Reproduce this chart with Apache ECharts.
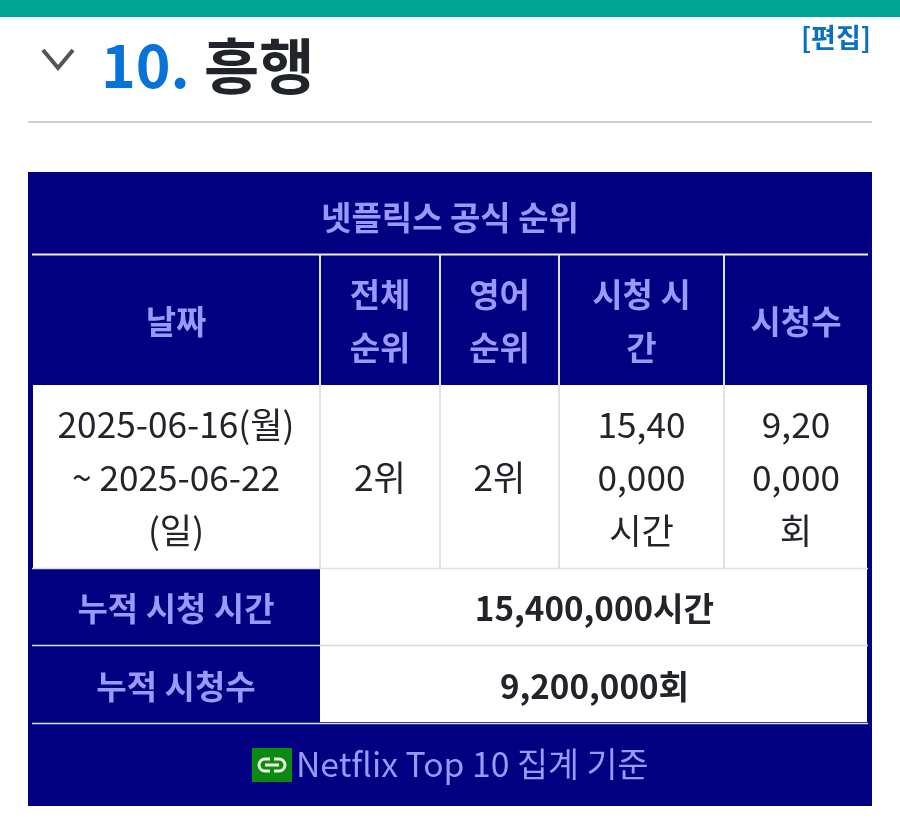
<!DOCTYPE html>
<html><head><meta charset="utf-8">
<style>html,body{margin:0;padding:0;background:#fff}#c{width:900px;height:823px}</style>
<script src="https://cdn.jsdelivr.net/npm/echarts@6/dist/echarts.min.js"></script>
</head><body><div id="c"></div>
<script>
var sectionNumber = '10.';
var sectionTitle = '흥행';
var editLabel = '[편집]';
var tableTitle = '넷플릭스 공식 순위';
var columnHeaders = ['날짜', '전체\n순위', '영어\n순위', '시청 시\n간', '시청수'];
var rowValues = ['2025-06-16(월)\n~ 2025-06-22\n(일)', '2위', '2위', '15,40\n0,000\n시간', '9,20\n0,000\n회'];
var totalLabels = ['누적 시청 시간', '누적 시청수'];
var totalValues = ['15,400,000시간', '9,200,000회'];
var footerText = 'Netflix Top 10 집계 기준';

var FONT = '"Noto Sans CJK KR","Noto Sans",sans-serif';
var NAVY = '#000080', LAV = '#9999ff', INK = '#212529', GRID = '#d6d8dc';
var els = [];
function rect(x, y, w, h, fill) {
  els.push({type:'rect', shape:{x:x,y:y,width:w,height:h}, style:{fill:fill}, silent:true});
}
function text(s, x, y, size, color, weight, lh, align) {
  els.push({type:'text', x:x, y:y, silent:true, style:{text:s, x:0, y:0, font:(weight||400)+' '+size+'px '+FONT,
    fill:color, align:align||'center', verticalAlign:'middle', lineHeight:lh||size*1.2}});
}
function line(x1,y1,x2,y2,c,w){els.push({type:'line',silent:true,shape:{x1:x1,y1:y1,x2:x2,y2:y2},style:{stroke:c,lineWidth:w,lineCap:'butt'}});}

rect(0,0,900,17,'#00a495');
els.push({type:'polyline',silent:true,shape:{points:[[43,50],[58,68],[73,50]]},style:{stroke:'#555',lineWidth:4,fill:null}});
text(sectionNumber,101,66,59,'#0772d8',700,72,'left');
text(sectionTitle,204,66,60,INK,700,72,'left');
text(editLabel,871,38,27,'#0b6fc2',700,32,'right');
line(28,122,872,122,'#cfcfcf',2);

rect(28,172,844,634,NAVY);
text(tableTitle,450,217,33,LAV,700,36);
line(32,254.5,868,254.5,'#eef',2);
var colX = [32,320,440,559,724,868];
[1,2,3,4].forEach(function(i){ line(colX[i],254,colX[i],385,'#dfe0f0',2); });
columnHeaders.forEach(function(h,i){ text(h,(colX[i]+colX[i+1])/2,321,33,LAV,700,53); });
rect(33,385,834,183,'#fff');
[1,2,3,4].forEach(function(i){ line(colX[i],385,colX[i],568,GRID,1.5); });
rowValues.forEach(function(v,i){ text(v,(colX[i]+colX[i+1])/2,478,35.2,INK,400,53); });
rect(320,569,547,76,'#fff'); rect(320,646,547,76,'#fff');
line(320,645.5,868,645.5,GRID,1.5);
line(32,723.5,868,723.5,'#dfe0f0',1.5);
line(32,568.5,868,568.5,'#dfe0f0',1.5);
line(32,645.5,320,645.5,'#dfe0f0',1.5);
var rowY = [608,686];
totalLabels.forEach(function(t,i){ text(t,176,rowY[i],33,LAV,700,40); });
totalValues.forEach(function(t,i){ text(t,594.5,rowY[i],33.2,INK,700,40); });
rect(252,748,40,34,'#0a8a10');
els.push({type:'rect',silent:true,shape:{x:259,y:759,width:26,height:12,r:6},style:{stroke:'#f0f4e4',lineWidth:3,fill:null}});
rect(270,756,4,5,'#0a8a10'); rect(270,769,4,5,'#0a8a10');
line(265,765,279,765,'#f0f4e4',3);
text(footerText,296,764,33.7,LAV,400,40,'left');

var chart = echarts.init(document.getElementById('c'), null, {renderer:'canvas', width:900, height:823});
chart.setOption({animation:false, backgroundColor:'#fff', graphic:{elements:els}});
</script></body></html>
